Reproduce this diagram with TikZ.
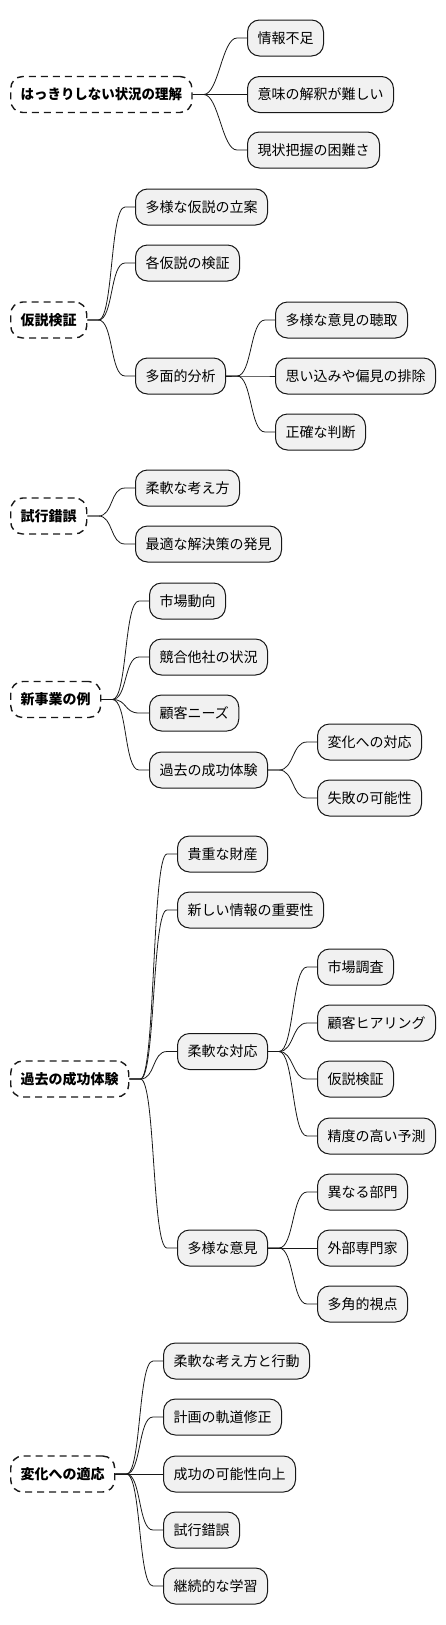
\documentclass[tikz,border=0pt]{standalone}
\usepackage{fontspec}
\setmainfont{Noto Sans CJK JP}
\definecolor{IdeaFill}{HTML}{F1F1F1}
\definecolor{IdeaLine}{HTML}{181818}

\tikzset{
  idea/.style={draw=IdeaLine,fill=IdeaFill,line width=1pt,rounded corners=12pt,
    anchor=west,inner xsep=10pt,inner ysep=0pt,minimum height=36pt,
    font=\fontsize{14}{16}\selectfont},
  topic/.style={idea,fill=white,line width=1.4pt,dash pattern=on 7pt off 5pt,
    font=\fontsize{14}{16}\selectfont\bfseries},
  branch/.style={draw=IdeaLine,line width=0.8pt,
    to path={-- ++(11,0) .. controls +(15,0) and +(-15,0) .. ([xshift=-10pt]\tikztotarget) -- (\tikztotarget)}}
}

\begin{document}
\begin{tikzpicture}[x=1pt,y=-1pt]
\useasboundingbox (0,0) rectangle (446,1625);

% understanding
\node[topic] (r1) at (10,94.5) {\scalebox{.96}[1]{はっきりしない状況の理解}};
\node[idea] (a1) at (247,38) {情報不足};
\node[idea] (a2) at (247,94.5) {意味の解釈が難しい};
\node[idea] (a3) at (247,150) {現状把握の困難さ};

% hypothesis
\node[topic] (r2) at (10,320) {仮説検証};
\node[idea] (b1) at (135,207) {多様な仮説の立案};
\node[idea] (b2) at (135,263) {各仮説の検証};
\node[idea] (b3) at (135,376) {多面的分析};
\node[idea] (b31) at (275,320) {多様な意見の聴取};
\node[idea] (b32) at (275,376) {思い込みや偏見の排除};
\node[idea] (b33) at (275,432) {正確な判断};

% trial and error
\node[topic] (r3) at (10,516) {試行錯誤};
\node[idea] (c1) at (135,488) {柔軟な考え方};
\node[idea] (c2) at (135,544) {最適な解決策の発見};

% new business
\node[topic] (r4) at (10,699.5) {新事業の例};
\node[idea] (d1) at (149,601) {市場動向};
\node[idea] (d2) at (149,657) {競合他社の状況};
\node[idea] (d3) at (149,713) {顧客ニーズ};
\node[idea] (d4) at (149,770) {過去の成功体験};
\node[idea] (d41) at (317,742) {変化への対応};
\node[idea] (d42) at (317,798) {失敗の可能性};

% past success
\node[topic] (r5) at (10,1079) {過去の成功体験};
\node[idea] (e1) at (177,854) {貴重な財産};
\node[idea] (e2) at (177,910) {新しい情報の重要性};
\node[idea] (e3) at (177,1051.5) {柔軟な対応};
\node[idea] (e31) at (317,967) {市場調査};
\node[idea] (e32) at (317,1023) {顧客ヒアリング};
\node[idea] (e33) at (317,1079) {仮説検証};
\node[idea] (e34) at (317,1136) {精度の高い予測};
\node[idea] (e4) at (177,1248) {多様な意見};
\node[idea] (e41) at (317,1192) {異なる部門};
\node[idea] (e42) at (317,1248) {外部専門家};
\node[idea] (e43) at (317,1304) {多角的視点};

% adapting to change
\node[topic] (r6) at (10,1474) {変化への適応};
\node[idea] (f1) at (163,1361) {柔軟な考え方と行動};
\node[idea] (f2) at (163,1417) {計画の軌道修正};
\node[idea] (f3) at (163,1474) {成功の可能性向上};
\node[idea] (f4) at (163,1530) {試行錯誤};
\node[idea] (f5) at (163,1586) {継続的な学習};

\foreach \p/\c in {r1/a1,r1/a2,r1/a3,
    r2/b1,r2/b2,r2/b3,b3/b31,b3/b32,b3/b33,
    r3/c1,r3/c2,
    r4/d1,r4/d2,r4/d3,r4/d4,d4/d41,d4/d42,
    r5/e1,r5/e2,r5/e3,r5/e4,e3/e31,e3/e32,e3/e33,e3/e34,e4/e41,e4/e42,e4/e43,
    r6/f1,r6/f2,r6/f3,r6/f4,r6/f5}
  \draw[branch] (\p.east) to (\c.west);

\end{tikzpicture}
\end{document}
